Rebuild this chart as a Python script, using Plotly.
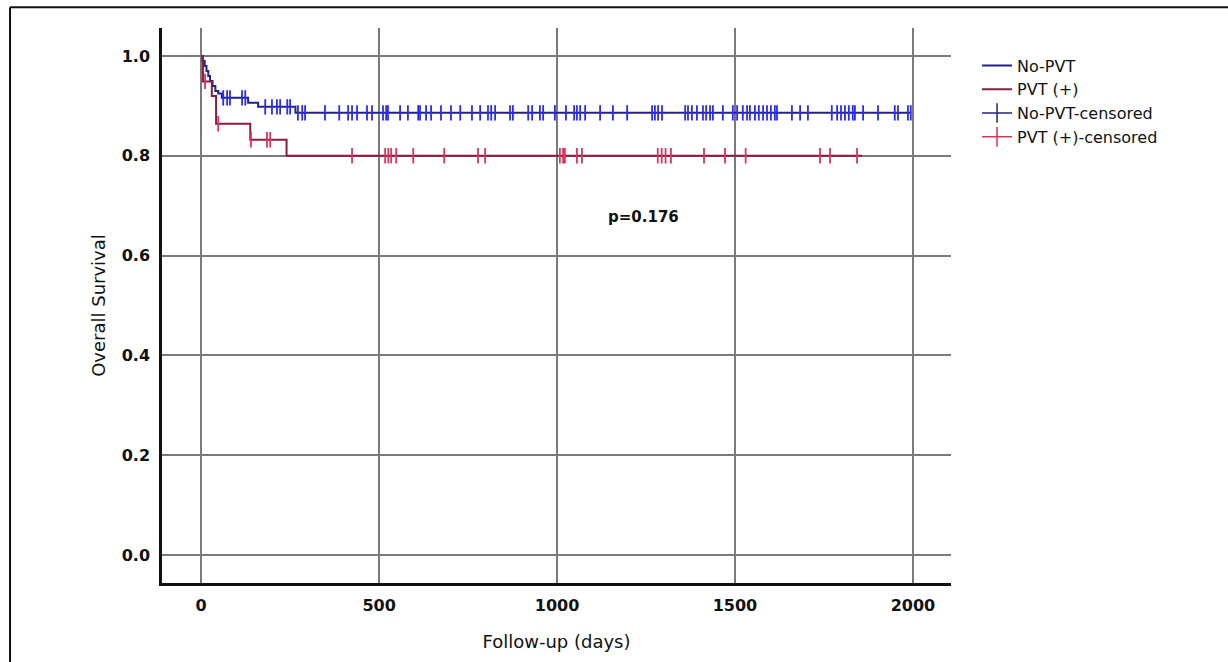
import plotly.graph_objects as go

# ---- data ----
nopvt_times = [0, 4, 10, 15, 20, 25, 32, 40, 48, 58, 132, 160, 265, 1994]
nopvt_surv = [1.0, 0.99, 0.98, 0.97, 0.96, 0.95, 0.94, 0.93, 0.925, 0.916, 0.906, 0.898, 0.886, 0.886]

pvt_times = [0, 5, 30, 42, 138, 240, 1857]
pvt_surv = [1.0, 0.949, 0.92, 0.864, 0.832, 0.80, 0.80]

nopvt_censored = [62, 73, 81, 115, 124, 180, 199, 213, 222, 242, 250,
                  272, 284, 292, 348, 388, 413, 424, 438, 466, 480, 511, 520, 525,
                  559, 581, 610, 615, 632, 646, 674, 702, 728, 761, 784, 806, 815,
                  826, 868, 876, 919, 930, 952, 961, 994, 1025, 1048, 1056, 1065,
                  1079, 1121, 1157, 1197, 1267, 1275, 1284, 1295, 1360, 1368, 1379,
                  1393, 1410, 1419, 1430, 1438, 1466, 1494, 1506, 1522, 1534, 1542,
                  1556, 1567, 1579, 1590, 1601, 1612, 1618, 1660, 1683, 1705, 1772,
                  1787, 1798, 1809, 1820, 1831, 1837, 1860, 1902, 1949, 1958, 1986, 1994]

pvt_censored = [11, 48, 140, 185, 194, 424, 517, 526, 534, 548, 596, 683, 778,
                798, 1008, 1017, 1022, 1056, 1070, 1283, 1294, 1305, 1320, 1413,
                1472, 1530, 1739, 1767, 1843]

x_ticks = [0, 500, 1000, 1500, 2000]
y_ticks = [0.0, 0.2, 0.4, 0.6, 0.8, 1.0]
p_text = "p=0.176"


def step_value(times, surv, t):
    val = surv[0]
    for ti, si in zip(times, surv):
        if ti <= t:
            val = si
    return val


nopvt_cens_y = [step_value(nopvt_times, nopvt_surv, t) for t in nopvt_censored]
pvt_cens_y = [step_value(pvt_times, pvt_surv, t) for t in pvt_censored]

BLUE_LINE = "#22228a"
BLUE_MARK = "#2a2aff"
RED_LINE = "#8a1c3c"
RED_MARK = "#e0305c"
FONT = "DejaVu Sans"
TXT = "#111111"

fig = go.Figure()

fig.add_trace(go.Scatter(x=nopvt_times, y=nopvt_surv, mode="lines",
                         line=dict(shape="hv", color=BLUE_LINE, width=2),
                         name="No-PVT", legendrank=1))
fig.add_trace(go.Scatter(x=pvt_times, y=pvt_surv, mode="lines",
                         line=dict(shape="hv", color=RED_LINE, width=2),
                         name="PVT (+)", legendrank=2))
fig.add_trace(go.Scatter(x=nopvt_censored, y=nopvt_cens_y, mode="markers",
                         marker=dict(symbol="line-ns", size=11,
                                     line=dict(color=BLUE_MARK, width=1.8)),
                         showlegend=False))
fig.add_trace(go.Scatter(x=pvt_censored, y=pvt_cens_y, mode="markers",
                         marker=dict(symbol="line-ns", size=11,
                                     line=dict(color=RED_MARK, width=1.8)),
                         showlegend=False))
# legend entries for censored marks
fig.add_trace(go.Scatter(x=[None], y=[None], mode="lines+markers",
                         line=dict(color=BLUE_LINE, width=1.5),
                         marker=dict(symbol="line-ns", size=14,
                                     line=dict(color=BLUE_LINE, width=1.5)),
                         name="No-PVT-censored", legendrank=3))
fig.add_trace(go.Scatter(x=[None], y=[None], mode="lines+markers",
                         line=dict(color=RED_MARK, width=1.5),
                         marker=dict(symbol="line-ns", size=14,
                                     line=dict(color=RED_MARK, width=1.5)),
                         name="PVT (+)-censored", legendrank=4))

fig.add_annotation(x=1242, y=0.677, text=p_text, showarrow=False,
                   font=dict(family=FONT, size=15, color=TXT, weight="bold"))

# outer frame (top and left border)
fig.add_shape(type="line", xref="paper", yref="paper",
              x0=-0.1926, x1=1.36, y0=1.0376, y1=1.0376,
              line=dict(color=TXT, width=2))
fig.add_shape(type="line", xref="paper", yref="paper",
              x0=-0.1926, x1=-0.1926, y0=1.0376, y1=-0.2,
              line=dict(color=TXT, width=2))

fig.update_layout(
    width=1228, height=662,
    margin=dict(l=162, r=277, t=28, b=76),
    paper_bgcolor="white", plot_bgcolor="white",
    font=dict(family=FONT, size=16, color=TXT),
    showlegend=True,
    legend=dict(x=1.033, y=0.963, xanchor="left", yanchor="top",
                font=dict(family=FONT, size=16, color=TXT),
                itemwidth=30, tracegroupgap=0, bgcolor="rgba(0,0,0,0)"),
    xaxis=dict(range=[-110, 2107], tickvals=x_ticks,
               ticktext=[str(v) for v in x_ticks],
               showgrid=True, gridcolor="#7a7a7a", gridwidth=1.5,
               zeroline=False, showline=True, linecolor=TXT, linewidth=2.5,
               ticks="", ticklabelstandoff=6,
               tickfont=dict(family=FONT, size=16, weight="bold"),
               title=dict(text="Follow-up (days)", standoff=22,
                          font=dict(family=FONT, size=18))),
    yaxis=dict(range=[-0.056, 1.056], tickvals=y_ticks,
               ticktext=[f"{v:.1f}" for v in y_ticks],
               showgrid=True, gridcolor="#7a7a7a", gridwidth=1.5,
               zeroline=False, showline=True, linecolor=TXT, linewidth=2.5,
               ticks="", ticklabelstandoff=6,
               tickfont=dict(family=FONT, size=16, weight="bold"),
               title=dict(text="Overall Survival", standoff=12,
                          font=dict(family=FONT, size=18))),
)

fig.write_html("out.html", config={"displayModeBar": False},
               post_script="document.body.style.margin='0';")
